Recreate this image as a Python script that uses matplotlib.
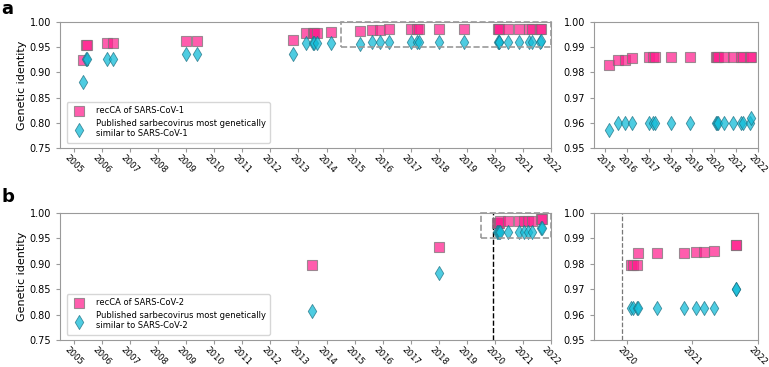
import matplotlib.pyplot as plt
import numpy as np
from matplotlib.patches import Rectangle

# ==================== DATA ====================
# decimal year of sampling, genetic identity to the outbreak virus
cov1_dates = [2005.33, 2005.43, 2005.45, 2006.16, 2006.40, 2008.98, 2009.38, 2012.81,
              2013.28, 2013.50, 2013.56, 2013.67, 2014.16, 2015.20, 2015.61, 2015.92,
              2016.24, 2017.01, 2017.22, 2017.30, 2018.02, 2018.89, 2020.10, 2020.13,
              2020.16, 2020.45, 2020.87, 2021.20, 2021.32, 2021.62, 2021.66]
cov1_recca = [0.924, 0.955, 0.955, 0.959, 0.959, 0.962, 0.962, 0.964,
              0.978, 0.978, 0.978, 0.979, 0.980, 0.9828, 0.9850, 0.9850,
              0.9857, 0.9861, 0.9861, 0.9861, 0.9861, 0.9861, 0.9861, 0.9861,
              0.9861, 0.9861, 0.9861, 0.9861, 0.9861, 0.9861, 0.9861]
cov1_published = [0.881, 0.927, 0.927, 0.927, 0.927, 0.936, 0.936, 0.936,
                  0.958, 0.958, 0.958, 0.958, 0.958, 0.9573, 0.960, 0.960,
                  0.960, 0.960, 0.960, 0.960, 0.960, 0.960, 0.960, 0.960,
                  0.960, 0.960, 0.960, 0.960, 0.960, 0.960, 0.9619]

cov2_dates = [2013.49, 2018.02, 2020.07, 2020.10, 2020.16, 2020.17, 2020.46, 2020.87,
              2021.05, 2021.17, 2021.33, 2021.66, 2021.67]
cov2_recca = [0.898, 0.934, 0.9797, 0.9797, 0.9797, 0.9843, 0.9843, 0.9844,
              0.9846, 0.9846, 0.9849, 0.9875, 0.9875]
cov2_published = [0.807, 0.881, 0.9625, 0.9625, 0.9625, 0.9625, 0.9625, 0.9625,
                  0.9625, 0.9625, 0.9625, 0.9699, 0.9699]

cov2_outbreak = 2019.93

PINK = '#ff1f8e'
CYAN = '#12bcd8'

fig = plt.figure(figsize=(7.69, 3.67), dpi=100)


def style_axes(ax):
    for s in ax.spines.values():
        s.set_edgecolor('#9a9a9a')
    ax.tick_params(colors='#9a9a9a', labelcolor='black', length=3)
    ax.tick_params(axis='y', labelsize=7)
    ax.tick_params(axis='x', labelsize=6.2, pad=0.5)


def draw_points(ax, dates, recca, published, name, ms):
    ax.scatter(dates, recca, marker='s', s=ms, color=PINK, alpha=0.72,
               edgecolors='#777777', linewidths=0.8, label=f'recCA of {name}', zorder=3)
    ax.scatter(dates, published, marker='d', s=ms, color=CYAN, alpha=0.75,
               edgecolors='#1f6f80', linewidths=0.6,
               label=f'Published sarbecovirus most genetically\nsimilar to {name}', zorder=3)


def main_panel(rect, dates, recca, published, name, box_x0):
    ax = fig.add_axes(rect)
    draw_points(ax, dates, recca, published, name, 52)
    ax.set_xlim(2004.5, 2022)
    ax.set_ylim(0.75, 1.0)
    ax.set_xticks(np.arange(2005, 2023))
    ax.set_yticks(np.arange(0.75, 1.001, 0.05))
    ax.set_yticklabels([f'{v:.2f}' for v in np.arange(0.75, 1.001, 0.05)])
    ax.set_xticklabels([str(y) for y in range(2005, 2023)], rotation=-45)
    ax.set_ylabel('Genetic identity', fontsize=8, labelpad=2)
    ax.add_patch(Rectangle((box_x0, 0.95), 2022 - box_x0, 0.05, fill=False,
                           ls='--', lw=1.2, ec='#999999', clip_on=False, zorder=4))
    leg = ax.legend(loc='lower left', fontsize=6, frameon=True, borderpad=0.5,
                    handletextpad=1.0, labelspacing=0.45, bbox_to_anchor=(0.005, 0.01))
    leg.get_frame().set_edgecolor('#cccccc')
    style_axes(ax)
    return ax


def zoom_panel(rect, dates, recca, published, name, x0):
    ax = fig.add_axes(rect)
    draw_points(ax, dates, recca, published, name, 52)
    ax.set_xlim(x0, 2022)
    ax.set_ylim(0.95, 1.0)
    ax.set_xticks(np.arange(int(np.ceil(x0)), 2023))
    ax.set_xticklabels([str(y) for y in range(int(np.ceil(x0)), 2023)], rotation=-45)
    ax.set_yticks(np.arange(0.95, 1.001, 0.01))
    ax.set_yticklabels([f'{v:.2f}' for v in np.arange(0.95, 1.001, 0.01)])
    style_axes(ax)
    return ax


# ==================== PANEL A: SARS-CoV-1 ====================
W, H = 769, 367
ax_a = main_panel([60 / W, 1 - 148 / H, 491 / W, 126 / H],
                  cov1_dates, cov1_recca, cov1_published, 'SARS-CoV-1', 2014.5)
ax_a2 = zoom_panel([594 / W, 1 - 148 / H, 164 / W, 126 / H],
                   cov1_dates, cov1_recca, cov1_published, 'SARS-CoV-1', 2014.5)

# ==================== PANEL B: SARS-CoV-2 ====================
ax_b = main_panel([60 / W, 1 - 340 / H, 491 / W, 127 / H],
                  cov2_dates, cov2_recca, cov2_published, 'SARS-CoV-2', 2019.5)
ax_b.axvline(cov2_outbreak, color='black', ls='--', lw=1, zorder=2)
ax_b2 = zoom_panel([594 / W, 1 - 340 / H, 164 / W, 127 / H],
                   cov2_dates, cov2_recca, cov2_published, 'SARS-CoV-2', 2019.5)
ax_b2.axvline(cov2_outbreak, color='#777777', ls='--', lw=0.9, zorder=2)

fig.text(0.002, 0.975, 'a', fontsize=13, fontweight='bold', va='center')
fig.text(0.002, 0.463, 'b', fontsize=13, fontweight='bold', va='center')

plt.savefig('out.png', dpi=100)
plt.close()
